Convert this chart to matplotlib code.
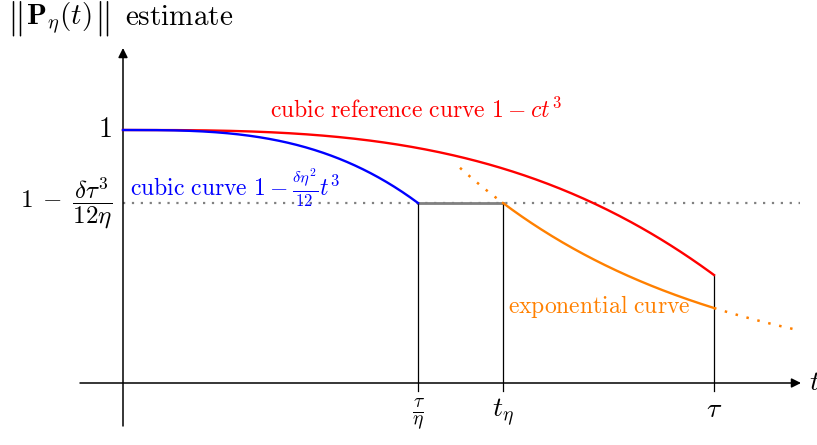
import numpy as np
import matplotlib
matplotlib.use("Agg")
import matplotlib.pyplot as plt

plt.rcParams['mathtext.fontset'] = 'cm'
plt.rcParams['font.family'] = ['cmr10', 'DejaVu Serif']

# ---- key positions (diagram units) ----
t_switch = 2.95      # tau / eta
t_eta = 3.80         # t_eta
tau = 5.91           # tau
t_end = 6.74         # end of dotted exponential
t_back = 3.37        # start of dotted backward exponential
level_one = 2.53     # value "1"
level_low = 1.80     # value 1 - delta tau^3 / (12 eta)
red_end = 1.08       # red cubic value at tau
orange_end = 0.75    # exponential value at tau

# curve parameters derived from the read endpoints
k_blue = (level_one - level_low) / t_switch**3
c_red = (level_one - red_end) / tau**3
lam = -np.log(orange_end / level_low) / (tau - t_eta)

x_tick_pos = [t_switch, t_eta, tau]
x_tick_labels = [r'$\frac{\tau}{\eta}$', r'$t_\eta$', r'$\tau$']
y_tick_pos = [level_one, level_low]
y_tick_labels = [r'$1$', r'$1\;-\;\dfrac{\delta\tau^3}{12\eta}$']

RED = (1, 0, 0)
BLUE = (0, 0, 1)
ORANGE = (1, 0.5, 0)
GRAY = (0.5, 0.5, 0.5)

fig = plt.figure(figsize=(8.17, 4.45), dpi=100)
ax = fig.add_axes([0, 0, 1, 1])
ax.set_xlim(-1.23, 6.94)
ax.set_ylim(-0.62, 3.83)
ax.axis('off')

# axes with arrows
ax.annotate('', xy=(6.78, 0), xytext=(-0.43, 0),
            arrowprops=dict(arrowstyle='-|>', color='black', lw=1.1, mutation_scale=14,
                            shrinkA=0, shrinkB=0))
ax.annotate('', xy=(0, 3.35), xytext=(0, -0.43),
            arrowprops=dict(arrowstyle='-|>', color='black', lw=1.1, mutation_scale=14,
                            shrinkA=0, shrinkB=0))

# dotted level line
ax.plot([0, 6.77], [level_low, level_low], color=GRAY, lw=1.6, ls=(0, (1, 3)), zorder=1)
# solid gray segment
ax.plot([t_switch, t_eta], [level_low, level_low], color=GRAY, lw=2.0, zorder=2)

# vertical lines
ax.plot([t_switch, t_switch], [-0.08, level_low], color='black', lw=0.9)
ax.plot([t_eta, t_eta], [-0.08, level_low], color='black', lw=0.9)
ax.plot([tau, tau], [-0.08, red_end], color='black', lw=0.9)

# red cubic
t = np.linspace(0, tau, 300)
ax.plot(t, level_one - c_red * t**3, color=RED, lw=1.7, zorder=3)
# blue cubic
t = np.linspace(0, t_switch, 300)
ax.plot(t, level_one - k_blue * t**3, color=BLUE, lw=1.7, zorder=4)
# orange exponential
t = np.linspace(t_eta, tau, 200)
ax.plot(t, level_low * np.exp(-lam * (t - t_eta)), color=ORANGE, lw=1.7, zorder=3)
t = np.linspace(tau, t_end, 100)
ax.plot(t, level_low * np.exp(-lam * (t - t_eta)), color=ORANGE, lw=1.8, ls=(0, (1, 3.5)), zorder=3)
t = np.linspace(t_back, t_eta, 100)
ax.plot(t, level_low * np.exp(-lam * (t - t_eta)), color=ORANGE, lw=1.8, ls=(0, (1, 3.5)), zorder=3)

# tick labels
for x, lab in zip(x_tick_pos, x_tick_labels):
    ax.text(x, -0.14, lab, ha='center', va='top', fontsize=20)
ax.text(-0.11, y_tick_pos[0], y_tick_labels[0], ha='right', va='center', fontsize=20)
ax.text(-0.11, y_tick_pos[1], y_tick_labels[1], ha='right', va='center', fontsize=18)

ax.text(6.86, 0.0, r'$t$', ha='left', va='center', fontsize=20)

# y-axis title: tall norm bars around P_eta(t), then "estimate"
ax.text(-1.16, 3.645, r'$\Vert$', ha='left', va='center', fontsize=26)
ax.text(-0.97, 3.65, r'$\mathbf{P}_\eta(t)$', ha='left', va='center', fontsize=21)
ax.text(-0.29, 3.645, r'$\Vert$', ha='left', va='center', fontsize=26)
ax.text(0.02, 3.65, r'$\mathrm{estimate}$', ha='left', va='center', fontsize=21)

ax.text(1.47, 2.73, r'$\mathrm{cubic\ reference\ curve}\ 1\:-\:ct^3$', color=RED,
        ha='left', va='center', fontsize=17)
ax.text(0.07, 1.95, r'$\mathrm{cubic\ curve}\ 1\:-\:\frac{\delta\eta^2}{12}t^3$', color=BLUE,
        ha='left', va='center', fontsize=17)
ax.text(3.85, 0.76, r'$\mathrm{exponential\ curve}$', color=ORANGE,
        ha='left', va='center', fontsize=17)

fig.savefig('out.png', dpi=100)
